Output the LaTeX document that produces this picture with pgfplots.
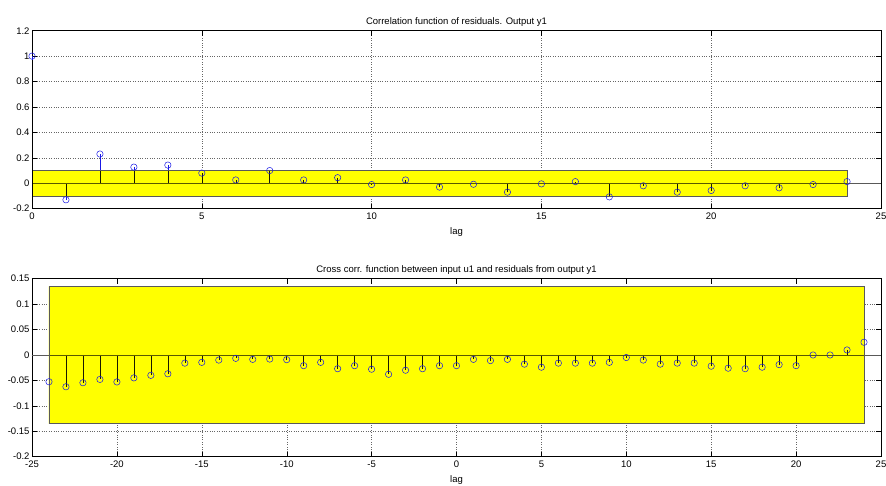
\documentclass[border=0pt]{standalone}
\usepackage{fontspec}
\setmainfont{Liberation Sans}
\usepackage{pgfplots}
\pgfplotsset{compat=1.18}
\definecolor{mblue}{rgb}{0.1,0.1,0.9}
\definecolor{edge}{rgb}{0.35,0.35,0.35}
\definecolor{yel}{rgb}{1,1,0}
\pgfplotsset{
  mstyle/.style={
    scale only axis, width=849pt, height=178pt,
    anchor=south west,
    axis line style={black, line width=0.5pt},
    tick align=inside, xtick pos=both, ytick pos=both,
    major tick length=5pt,
    tick style={black, line width=0.4pt},
    grid=major, major grid style={dotted, black!60, line width=0.4pt},
    tick label style={font=\fontsize{9.5}{10}\selectfont},
    label style={font=\fontsize{9.5}{10}\selectfont},
    title style={font=\fontsize{9.5}{10}\selectfont, yshift=-5pt},
    /pgf/number format/assume math mode=true,
    /pgf/number format/fixed,
    xticklabel style={yshift=-1pt},
    yticklabel style={xshift=1pt},
    xlabel style={yshift=-1pt},
  }
}
\begin{document}
\begin{tikzpicture}
\useasboundingbox (0,0) rectangle (886pt,486pt);
% ---------- top ----------
\begin{axis}[mstyle, at={(32pt,277.3pt)},
  xmin=0, xmax=25, ymin=-0.2, ymax=1.2,
  xtick={0,5,10,15,20,25}, ytick={-0.2,0,0.2,0.4,0.6,0.8,1,1.2},
  title={Correlation function of residuals. Output y1}, xlabel={lag}]
\addplot [fill=yel, draw=none] coordinates {(0,-0.104) (24,-0.104) (24,0.104) (0,0.104) (0,-0.104)};
\addplot [ycomb, mblue, line width=0.5pt, mark=o, mark size=3.2pt, mark options={mblue, line width=0.5pt}] table {
x y
0 1.0
1 -0.13
2 0.23
3 0.127
4 0.143
5 0.08
6 0.026
7 0.10
8 0.026
9 0.044
10 -0.01
11 0.026
12 -0.03
13 -0.008
14 -0.07
15 -0.005
16 0.013
17 -0.107
18 -0.02
19 -0.07
20 -0.057
21 -0.02
22 -0.036
23 -0.01
24 0.013
};
\addplot [edge, line width=0.6pt] coordinates {(0,0) (25,0)};
\addplot [fill=yel, draw=none, blend mode=multiply] coordinates {(0,-0.104) (24,-0.104) (24,0.104) (0,0.104) (0,-0.104)};
\addplot [draw=edge, line width=0.6pt] coordinates {(0,-0.104) (24,-0.104) (24,0.104) (0,0.104) (0,-0.104)};
\addplot [black, line width=0.5pt] coordinates {(0,-0.2) (0,0.97)};
\end{axis}
% ---------- bottom ----------
\begin{axis}[mstyle, at={(32pt,29.3pt)},
  xmin=-25, xmax=25, ymin=-0.2, ymax=0.15,
  xtick={-25,-20,...,25}, ytick={-0.2,-0.15,-0.1,-0.05,0,0.05,0.1,0.15},
  title={Cross corr. function between input u1 and residuals from output y1}, xlabel={lag}]
\addplot [fill=yel, draw=none] coordinates {(-24,-0.135) (24,-0.135) (24,0.135) (-24,0.135) (-24,-0.135)};
\addplot [ycomb, mblue, line width=0.5pt, mark=o, mark size=3.2pt, mark options={mblue, line width=0.5pt}] table {
x y
-24 -0.0526
-23 -0.0625
-22 -0.0546
-21 -0.048
-20 -0.053
-19 -0.045
-18 -0.040
-17 -0.037
-16 -0.016
-15 -0.0145
-14 -0.010
-13 -0.0066
-12 -0.0086
-11 -0.008
-10 -0.0092
-9 -0.021
-8 -0.0145
-7 -0.027
-6 -0.021
-5 -0.028
-4 -0.038
-3 -0.030
-2 -0.027
-1 -0.021
0 -0.021
1 -0.0086
2 -0.011
3 -0.0086
4 -0.018
5 -0.024
6 -0.016
7 -0.016
8 -0.016
9 -0.0145
10 -0.005
11 -0.010
12 -0.018
13 -0.016
14 -0.016
15 -0.022
16 -0.026
17 -0.027
18 -0.024
19 -0.019
20 -0.021
21 0
22 0
23 0.0099
24 0.025
};
\addplot [edge, line width=0.6pt] coordinates {(-25,0) (25,0)};
\addplot [fill=yel, draw=none, blend mode=multiply] coordinates {(-24,-0.135) (24,-0.135) (24,0.135) (-24,0.135) (-24,-0.135)};
\addplot [draw=edge, line width=0.6pt] coordinates {(-24,-0.135) (24,-0.135) (24,0.135) (-24,0.135) (-24,-0.135)};
\end{axis}
\end{tikzpicture}
\end{document}
